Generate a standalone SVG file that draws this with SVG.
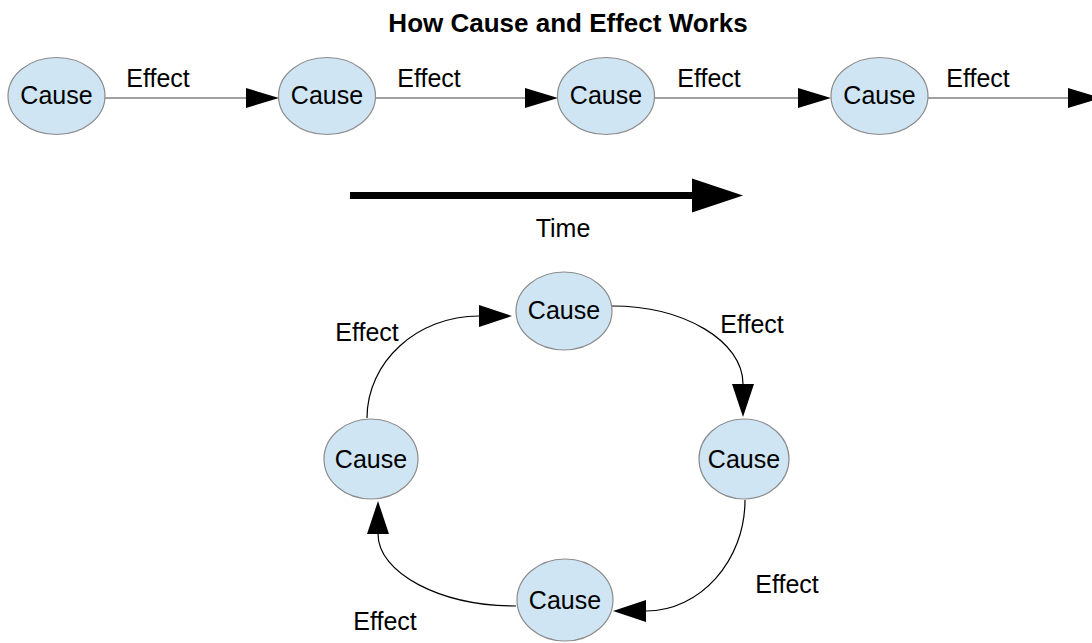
<svg xmlns="http://www.w3.org/2000/svg" width="1092" height="643" viewBox="0 0 1092 643">
<defs>
<style>
.node ellipse{fill:#cfe5f3;stroke:#8c8c8c;stroke-width:1.2}
text{font-family:"Liberation Sans",Arial,sans-serif;font-size:25px;fill:#000}
.node text{text-anchor:middle}
.lbl{text-anchor:middle}
.title{font-weight:bold;font-size:26px;text-anchor:middle}
.conn path{fill:none;stroke:#000;stroke-width:1.2}
.conn .h{stroke:#444;marker-end:url(#ah)}
.conn .c{marker-end:url(#ah2)}
</style>
<marker id="ah" markerUnits="userSpaceOnUse" markerWidth="34" markerHeight="22" refX="0" refY="10" orient="auto" overflow="visible">
<path d="M0,0 L33,10 L0,20 Z" fill="#000"/>
</marker>
<marker id="ah2" markerUnits="userSpaceOnUse" markerWidth="34" markerHeight="24" refX="0" refY="11" orient="auto" overflow="visible">
<path d="M0,0 L33,11 L0,22 Z" fill="#000"/>
</marker>
<marker id="big" markerUnits="userSpaceOnUse" markerWidth="52" markerHeight="36" refX="0" refY="17" orient="auto" overflow="visible">
<path d="M0,0 L51,17 L0,34 Z" fill="#000"/>
</marker>
</defs>
<rect width="1092" height="643" fill="#fff"/>
<text class="title" x="568" y="32">How Cause and Effect Works</text>

<g id="connectors" class="conn">
<path class="h" d="M105,98 L246,98"/>
<path class="h" d="M375,98 L525,98"/>
<path class="h" d="M655,98 L798,98"/>
<path class="h" d="M928,98 L1068,98"/>
<path d="M350,195.5 L692,195.5" style="stroke-width:7;marker-end:url(#big)"/>
<path class="c" d="M612,306 C684,306 743,341 743,384"/>
<path class="c" d="M745,500 C745,561 700,611 646,611"/>
<path class="c" d="M516,606 C440,606 378,573 378,534"/>
<path class="c" d="M367,418 C367,362 417,316 479,316"/>
</g>

<g id="labels">
<text class="lbl" x="158" y="87">Effect</text>
<text class="lbl" x="429" y="87">Effect</text>
<text class="lbl" x="709" y="87">Effect</text>
<text class="lbl" x="978" y="87">Effect</text>
<text class="lbl" x="563" y="237">Time</text>
<text class="lbl" x="752" y="333">Effect</text>
<text class="lbl" x="367" y="341">Effect</text>
<text class="lbl" x="787" y="593">Effect</text>
<text class="lbl" x="385" y="630">Effect</text>
</g>

<g id="n1" class="node"><ellipse cx="56.5" cy="96" rx="48.5" ry="38.5"/><text x="56.5" y="104">Cause</text></g>
<g id="n2" class="node"><ellipse cx="327" cy="96" rx="48.5" ry="38.5"/><text x="327" y="104">Cause</text></g>
<g id="n3" class="node"><ellipse cx="606" cy="96" rx="48.5" ry="38.5"/><text x="606" y="104">Cause</text></g>
<g id="n4" class="node"><ellipse cx="879.5" cy="96" rx="48.5" ry="38.5"/><text x="879.5" y="104">Cause</text></g>

<g id="c1" class="node"><ellipse cx="564" cy="311" rx="48" ry="39"/><text x="564" y="319">Cause</text></g>
<g id="c2" class="node"><ellipse cx="744" cy="459" rx="45" ry="40"/><text x="744" y="468">Cause</text></g>
<g id="c3" class="node"><ellipse cx="565" cy="600" rx="48" ry="41"/><text x="565" y="609">Cause</text></g>
<g id="c4" class="node"><ellipse cx="371" cy="459" rx="47" ry="40"/><text x="371" y="468">Cause</text></g>
</svg>
